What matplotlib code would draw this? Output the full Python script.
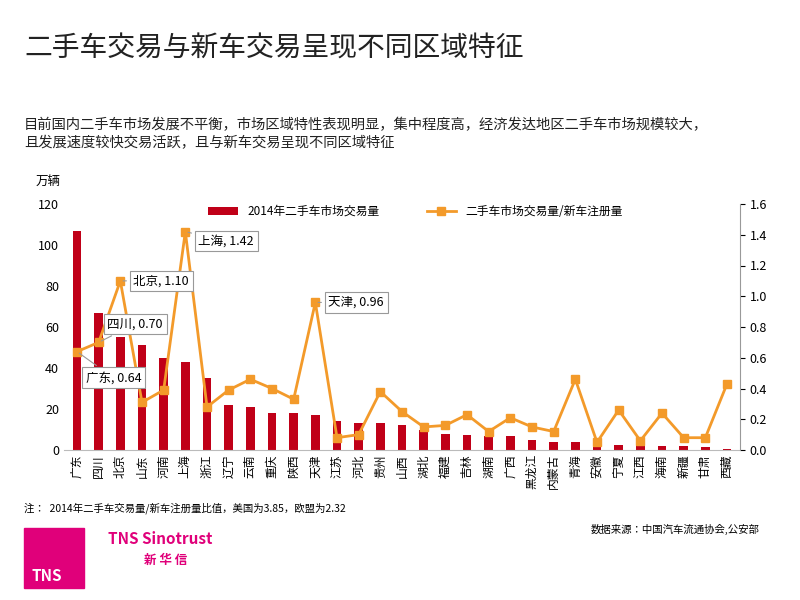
import matplotlib
matplotlib.use("Agg")
import matplotlib.pyplot as plt
from matplotlib.patches import Rectangle

plt.rcParams["font.family"] = ["Noto Sans CJK JP", "Noto Sans SC", "DejaVu Sans"]

provinces = ["广东","四川","北京","山东","河南","上海","浙江","辽宁","云南","重庆","陕西","天津","江苏","河北","贵州","山西",
             "湖北","福建","吉林","湖南","广西","黑龙江","内蒙古","青海","安徽","宁夏","江西","海南","新疆","甘肃","西藏"]
volume = [107,67,55,51,45,43,35,22,21,18,18,17,14,13,13,12,10,8,7.5,7,7,5,4,4,1.5,2.5,2.2,2,1.8,1.5,0.5]
ratio = [0.64,0.70,1.10,0.31,0.39,1.42,0.28,0.39,0.46,0.40,0.33,0.96,0.08,0.10,0.38,0.25,
         0.15,0.16,0.23,0.12,0.21,0.15,0.12,0.46,0.05,0.26,0.06,0.24,0.08,0.08,0.43]
left_ticks = [0,20,40,60,80,100,120]
right_ticks = [0,0.2,0.4,0.6,0.8,1.0,1.2,1.4,1.6]
labeled = {"广东":(0.4,-0.17),"四川":(0.4,0.12),"北京":(0.6,0.0),"上海":(0.6,-0.06),"天津":(0.6,0.0)}

fig = plt.figure(figsize=(8,6), dpi=100)
fig.text(0.03,0.905,"二手车交易与新车交易呈现不同区域特征",fontsize=20,color="#222222")
fig.text(0.03,0.755,"目前国内二手车市场发展不平衡，市场区域特性表现明显，集中程度高，经济发达地区二手车市场规模较大，\n且发展速度较快交易活跃，且与新车交易呈现不同区域特征",fontsize=10.3,color="#222222",linespacing=1.3)
fig.text(0.045,0.692,"万辆",fontsize=9)
ax = fig.add_axes([0.08,0.25,0.845,0.41])
x = list(range(len(provinces)))
ax.bar(x, volume, width=0.4, color="#C00018", label="2014年二手车市场交易量")
ax.set_ylim(0,120); ax.set_yticks(left_ticks)
ax.set_xlim(-0.6,len(x)-0.4)
ax.set_xticks(x)
ax.set_xticklabels(provinces, fontsize=8.5, rotation=90, va="top")
ax.tick_params(axis="x", length=0, pad=3)
ax.tick_params(axis="y", labelsize=9, length=0)
for s in ["top","right","left"]: ax.spines[s].set_visible(False)
ax.spines["bottom"].set_color("#bbbbbb")
ax2 = ax.twinx()
ax2.plot(x, ratio, color="#F39A2A", lw=2, marker="s", ms=6, label="二手车市场交易量/新车注册量")
ax2.set_ylim(0,1.6); ax2.set_yticks(right_ticks)
ax2.set_yticklabels([f"{v:.1f}" for v in right_ticks], fontsize=9)
for s in ["top","left","bottom"]: ax2.spines[s].set_visible(False)
ax2.spines["right"].set_color("#999999")
for i,p in enumerate(provinces):
    if p in labeled:
        dx,dy = labeled[p]
        ax2.annotate(f"{p}, {ratio[i]:.2f}", xy=(i,ratio[i]), xytext=(i+dx,ratio[i]+dy), fontsize=9,
                     ha="left", va="center",
                     bbox=dict(boxstyle="square,pad=0.3",fc="white",ec="#999999",lw=0.8),
                     arrowprops=dict(arrowstyle="-",color="#999999",lw=0.8))
h1,l1 = ax.get_legend_handles_labels(); h2,l2 = ax2.get_legend_handles_labels()
ax.legend(h1+h2,l1+l2,loc="upper center",bbox_to_anchor=(0.52,1.04),ncol=2,frameon=False,fontsize=8.5,columnspacing=4,handlelength=2.5)
fig.text(0.03,0.148,"注：  2014年二手车交易量/新车注册量比值，美国为3.85，欧盟为2.32",fontsize=7.5)
fig.text(0.95,0.112,"数据来源：中国汽车流通协会,公安部",fontsize=7.5,ha="right")
fig.patches.append(Rectangle((0.03,0.02),0.075,0.1,transform=fig.transFigure,color="#E0007A"))
fig.text(0.04,0.032,"TNS",fontsize=11,color="white",weight="bold")
fig.text(0.135,0.093,"TNS Sinotrust",fontsize=11,color="#E0007A",weight="bold")
fig.text(0.18,0.06,"新 华 信",fontsize=9,color="#E0007A",weight="bold")
fig.savefig("out.png")
